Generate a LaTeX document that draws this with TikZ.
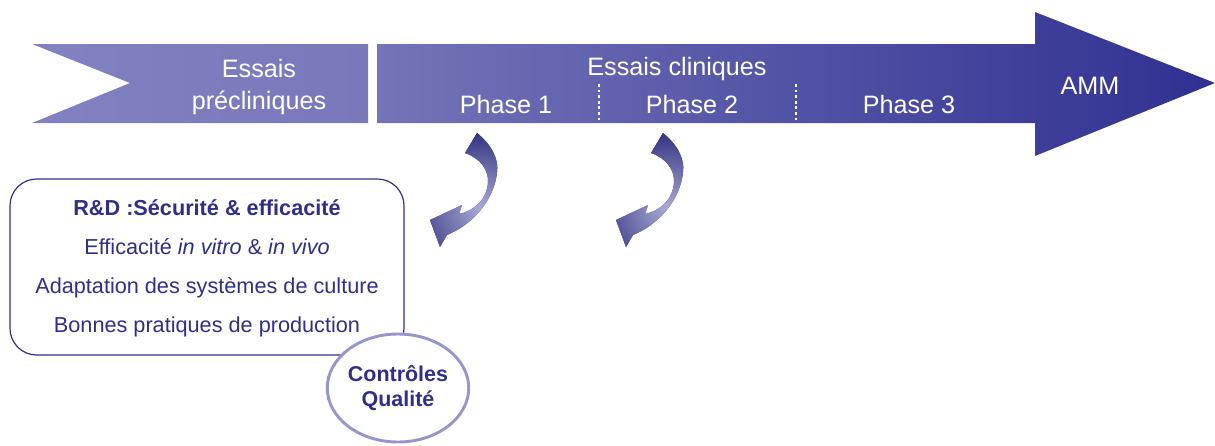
\documentclass[tikz,border=0pt]{standalone}
\usepackage{fontspec}
\setmainfont{Liberation Sans}
\usetikzlibrary{positioning, shapes.geometric}
\definecolor{prelight}{RGB}{130,130,194}
\definecolor{premid}{RGB}{120,120,186}
\definecolor{bandmid}{RGB}{116,116,184}
\definecolor{banddark}{RGB}{48,48,146}
\definecolor{inkblue}{RGB}{46,46,140}
\definecolor{curvedark}{RGB}{44,44,124}
\definecolor{curvelight}{RGB}{170,170,214}
\definecolor{ringblue}{RGB}{150,150,205}
\tikzstyle{bandtext}=[text=white, font=\fontsize{21.5}{24}\selectfont, anchor=base, inner sep=0pt]
\tikzstyle{boxtext}=[text=inkblue, font=\fontsize{18.5}{22}\selectfont, inner sep=0pt, text height=14pt, text depth=4pt]
\tikzstyle{qcring}=[ellipse, draw=ringblue, line width=2.5pt, fill=white, minimum width=4.2cm, minimum height=3.24cm, inner sep=0pt, align=center, text=inkblue, font=\bfseries\fontsize{18.3}{21.3}\selectfont]
\newcommand{\twistpath}{(477,133) .. controls (492,145) and (499,160) .. (497,172) .. controls (495,195) and (478,222) .. (447,235) -- (440,247) -- (430,220) -- (462,205) -- (459,214) .. controls (476,210) and (487,198) .. (488,183) .. controls (489,170) and (480,158) .. (465,153) -- cycle}

\begin{document}
\begin{tikzpicture}[x=0.03cm, y=-0.03cm, node distance=1.17cm]
		\useasboundingbox (0,0) rectangle (1215,445);
		% band
		\shade[left color=prelight, right color=premid] (32,44) -- (368,44) -- (368,123) -- (32,123) -- (130,83) -- cycle;
		\shade[left color=bandmid, right color=banddark] (377,44) -- (1035,44) -- (1035,12) -- (1215,83) -- (1035,156) -- (1035,123) -- (377,123) -- cycle;
		\draw[white, line width=2.3pt, dash pattern=on 2.3pt off 2.5pt] (599,84) -- (599,122);
		\draw[white, line width=2.3pt, dash pattern=on 2.3pt off 2.5pt] (796,84) -- (796,122);
		
		\node(pre1) [bandtext] at (259,77) {Essais};
		\node(pre2) [bandtext] at (259,109) {précliniques};
		\node(clin) [bandtext] at (677,75) {Essais cliniques};
		\node(ph1) [bandtext] at (506,113) {Phase 1};
		\node(ph2) [bandtext] at (692,113) {Phase 2};
		\node(ph3) [bandtext] at (909,113) {Phase 3};
		\node(amm) [bandtext] at (1090,94) {AMM};
		
		% curved arrows
		\foreach \dx in {0,186}{
		\begin{scope}[shift={(\dx,0)}]
		\clip \twistpath;
		\fill[curvedark] (425,128) rectangle (502,252);
		\shade[inner color=curvelight, outer color=curvedark] (481,208) circle (80);
		\end{scope}
		}
		
		% R&D box
		\draw[inkblue, line width=1pt, rounded corners=0.8cm] (10,179) rectangle (404,355);
		\node(rd) [boxtext, anchor=base, font=\bfseries\fontsize{18.5}{22}\selectfont] at (207,215) {R\&D :Sécurité \& efficacité};
		\node(eff) [boxtext, below of = rd] {Efficacité \textit{in vitro} \& \textit{in vivo}};
		\node(adapt) [boxtext, below of = eff] {Adaptation des systèmes de culture};
		\node(bpp) [boxtext, below of = adapt] {Bonnes pratiques de production};
		
		\node(cq) [qcring] at (398,388) {Contrôles\\Qualité};
		\end{tikzpicture}
\end{document}
